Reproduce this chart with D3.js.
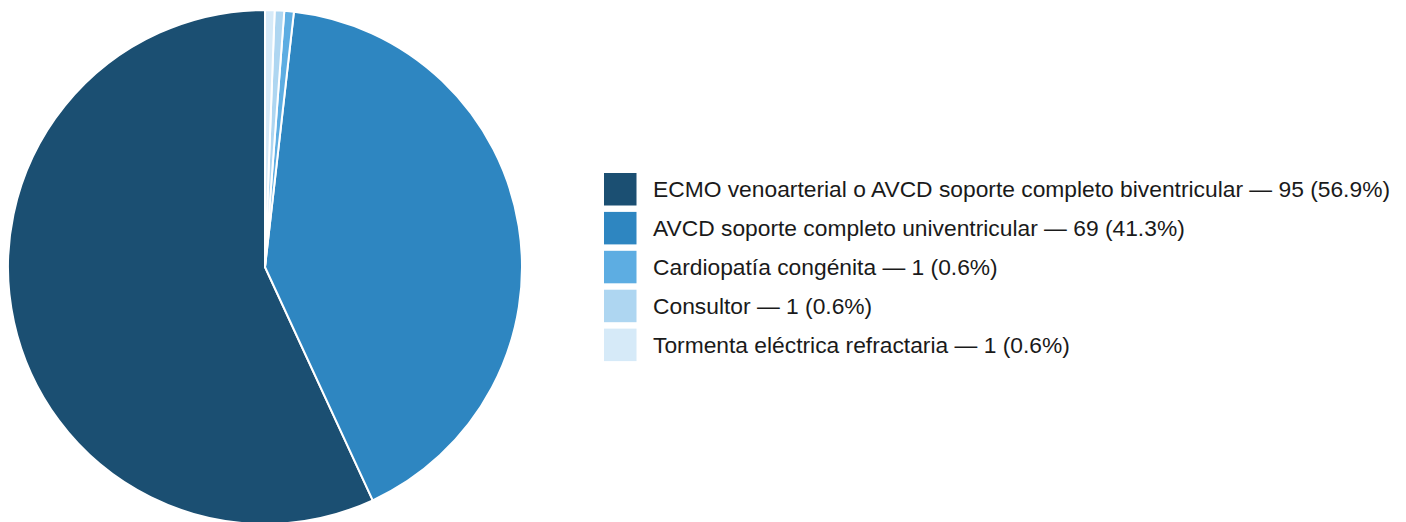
<!DOCTYPE html>
<html>
<head>
<meta charset="utf-8">
<script src="https://cdn.jsdelivr.net/npm/d3@7"></script>
<style>
  html, body { margin: 0; padding: 0; background: #ffffff; }
  svg { display: block; }
</style>
</head>
<body>
<svg id="chart" width="1406" height="522"></svg>
<script>
// Indicaciones de soporte circulatorio
const categories = [
  "ECMO venoarterial o AVCD soporte completo biventricular",
  "AVCD soporte completo univentricular",
  "Cardiopatía congénita",
  "Consultor",
  "Tormenta eléctrica refractaria"
];
const counts = [95, 69, 1, 1, 1];
const percentLabels = ["56.9%", "41.3%", "0.6%", "0.6%", "0.6%"];
const colors = ["#1B4F72", "#2E86C1", "#5DADE2", "#AED6F1", "#D6EAF8"];

const svg = d3.select("#chart");
const cx = 265, cy = 267, radius = 257;

const data = categories.map((c, i) => ({ name: c, value: counts[i], pct: percentLabels[i], color: colors[i] }));

// Smallest slices start at 12 o'clock, going clockwise
const pie = d3.pie()
  .value(d => d.value)
  .sort((a, b) => a.value - b.value || categories.indexOf(b.name) - categories.indexOf(a.name));

const arc = d3.arc().innerRadius(0).outerRadius(radius);

svg.append("g")
  .attr("transform", `translate(${cx},${cy})`)
  .selectAll("path")
  .data(pie(data))
  .join("path")
  .attr("d", arc)
  .attr("fill", d => d.data.color)
  .attr("stroke", "#ffffff")
  .attr("stroke-width", 2)
  .attr("stroke-linejoin", "round");

// Legend
const legendX = 604, legendY = 173, rowH = 38.9, sw = 32.5;
const legend = svg.append("g");
const rows = legend.selectAll("g")
  .data(data)
  .join("g")
  .attr("transform", (d, i) => `translate(${legendX},${legendY + i * rowH})`);

rows.append("rect")
  .attr("width", sw)
  .attr("height", sw)
  .attr("fill", d => d.color);

rows.append("text")
  .attr("x", 49)
  .attr("y", sw / 2)
  .attr("dy", "0.35em")
  .attr("font-family", "'Liberation Sans', Arial, sans-serif")
  .attr("font-size", 22.8)
  .attr("fill", "#1a1a1a")
  .text(d => `${d.name} — ${d.value} (${d.pct})`);
</script>
</body>
</html>
